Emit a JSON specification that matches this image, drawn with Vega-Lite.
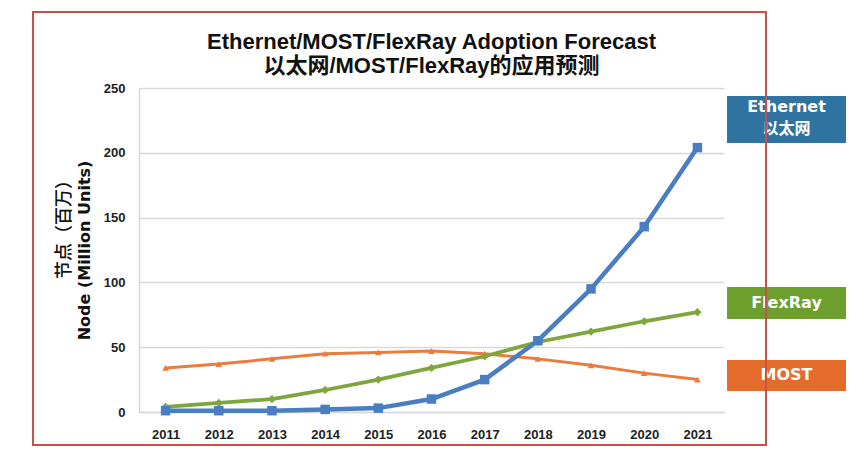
{
  "$schema": "https://vega.github.io/schema/vega-lite/v6.json",
  "width": 585,
  "height": 324,
  "autosize": "none",
  "padding": {"left": 139, "top": 88, "right": 144, "bottom": 40},
  "background": "#ffffff",
  "config": {"view": {"stroke": null}, "font": "Liberation Sans, Noto Sans CJK SC"},
  "title": {
    "text": "Ethernet/MOST/FlexRay Adoption Forecast",
    "subtitle": "以太网/MOST/FlexRay的应用预测",
    "frame": "group",
    "fontSize": 22,
    "fontWeight": "bold",
    "font": "Liberation Sans, Noto Sans CJK SC",
    "subtitleFont": "Liberation Sans, Noto Sans CJK SC",
    "subtitleFontSize": 22,
    "subtitleFontWeight": "bold",
    "subtitleColor": "#111111",
    "subtitlePadding": 2,
    "anchor": "middle",
    "offset": -67,
    "color": "#111111"
  },
  "datasets": {
    "series": [
      {"year": 2011, "series": "MOST", "value": 34},
      {"year": 2012, "series": "MOST", "value": 37},
      {"year": 2013, "series": "MOST", "value": 41},
      {"year": 2014, "series": "MOST", "value": 45},
      {"year": 2015, "series": "MOST", "value": 46},
      {"year": 2016, "series": "MOST", "value": 47},
      {"year": 2017, "series": "MOST", "value": 45},
      {"year": 2018, "series": "MOST", "value": 41},
      {"year": 2019, "series": "MOST", "value": 36},
      {"year": 2020, "series": "MOST", "value": 30},
      {"year": 2021, "series": "MOST", "value": 25},
      {"year": 2011, "series": "FlexRay", "value": 4},
      {"year": 2012, "series": "FlexRay", "value": 7},
      {"year": 2013, "series": "FlexRay", "value": 10},
      {"year": 2014, "series": "FlexRay", "value": 17},
      {"year": 2015, "series": "FlexRay", "value": 25},
      {"year": 2016, "series": "FlexRay", "value": 34},
      {"year": 2017, "series": "FlexRay", "value": 43},
      {"year": 2018, "series": "FlexRay", "value": 54},
      {"year": 2019, "series": "FlexRay", "value": 62},
      {"year": 2020, "series": "FlexRay", "value": 70},
      {"year": 2021, "series": "FlexRay", "value": 77},
      {"year": 2011, "series": "Ethernet", "value": 1},
      {"year": 2012, "series": "Ethernet", "value": 1},
      {"year": 2013, "series": "Ethernet", "value": 1},
      {"year": 2014, "series": "Ethernet", "value": 2},
      {"year": 2015, "series": "Ethernet", "value": 3},
      {"year": 2016, "series": "Ethernet", "value": 10},
      {"year": 2017, "series": "Ethernet", "value": 25},
      {"year": 2018, "series": "Ethernet", "value": 55},
      {"year": 2019, "series": "Ethernet", "value": 95},
      {"year": 2020, "series": "Ethernet", "value": 143},
      {"year": 2021, "series": "Ethernet", "value": 204}
    ],
    "labels": [
      {"series": "Ethernet", "label": ["Ethernet", "以太网"]},
      {"series": "FlexRay", "label": "FlexRay"},
      {"series": "MOST", "label": "MOST"},
      {"series": "axis", "label": "节点（百万）"}
    ],
    "frame": [{"name": "frame"}]
  },
  "layer": [
    {
      "data": {"name": "series"},
      "mark": {"type": "line", "strokeCap": "round", "strokeJoin": "round"},
      "encoding": {
        "x": {
          "field": "year", "type": "quantitative",
          "scale": {"domain": [2010.5, 2021.5], "nice": false, "zero": false},
          "axis": {
            "values": [2011, 2012, 2013, 2014, 2015, 2016, 2017, 2018, 2019, 2020, 2021],
            "format": "d", "grid": false, "ticks": false,
            "domainColor": "#d9d9d9", "domainWidth": 1.5,
            "labelFontWeight": "bold", "labelFontSize": 13, "labelColor": "#222222",
            "labelPadding": 16, "title": null
          }
        },
        "y": {
          "field": "value", "type": "quantitative",
          "scale": {"domain": [0, 250], "nice": false},
          "axis": {
            "values": [0, 50, 100, 150, 200, 250],
            "grid": true, "gridColor": "#d9d9d9", "gridWidth": 1.5,
            "ticks": false, "domainColor": "#d9d9d9", "domainWidth": 1.5,
            "labelFontWeight": "bold", "labelFontSize": 13, "labelColor": "#222222",
            "labelPadding": 14,
            "title": "Node (Million Units)",
            "titleFont": "DejaVu Sans",
            "titleFontSize": 16, "titleFontWeight": "bold", "titleColor": "#111111",
            "titlePadding": 11
          }
        },
        "color": {
          "field": "series", "type": "nominal",
          "scale": {"domain": ["Ethernet", "FlexRay", "MOST"], "range": ["#4a7ec2", "#7fa63c", "#e97c3e"]},
          "legend": null
        },
        "strokeWidth": {
          "field": "series", "type": "nominal",
          "scale": {"domain": ["Ethernet", "FlexRay", "MOST"], "range": [4.5, 3, 3]},
          "legend": null
        }
      }
    },
    {
      "data": {"name": "series"},
      "mark": {"type": "point", "filled": true, "opacity": 1},
      "encoding": {
        "x": {"field": "year", "type": "quantitative"},
        "y": {"field": "value", "type": "quantitative"},
        "color": {"field": "series", "type": "nominal", "legend": null},
        "shape": {
          "field": "series", "type": "nominal",
          "scale": {"domain": ["Ethernet", "FlexRay", "MOST"], "range": ["square", "diamond", "triangle-up"]},
          "legend": null
        },
        "size": {
          "field": "series", "type": "nominal",
          "scale": {"domain": ["Ethernet", "FlexRay", "MOST"], "range": [90, 45, 40]},
          "legend": null
        }
      }
    },
    {
      "data": {"name": "labels"},
      "transform": [{"filter": "datum.series === 'axis'"}],
      "mark": {"type": "text", "color": "#111111", "fontSize": 18, "font": "Noto Sans CJK SC", "fontWeight": 500, "angle": 270, "align": "center", "baseline": "middle"},
      "encoding": {
        "x": {"datum": 2009.109}, "y": {"datum": 144.3},
        "text": {"field": "label"}
      }
    },
    {
      "data": {"name": "labels"},
      "transform": [{"filter": "datum.series === 'Ethernet'"}],
      "layer": [
        {
          "mark": {"type": "rect", "color": "#2f74a1"},
          "encoding": {
            "x": {"datum": 2021.557}, "x2": {"datum": 2023.794},
            "y": {"datum": 243.8}, "y2": {"datum": 207.6}
          }
        },
        {
          "mark": {"type": "text", "color": "#ffffff", "fontWeight": "bold", "fontSize": 16, "font": "DejaVu Sans, Noto Sans CJK SC", "lineHeight": 22, "align": "center", "baseline": "middle"},
          "encoding": {
            "x": {"datum": 2022.675}, "y": {"datum": 235.3},
            "text": {"field": "label"}
          }
        }
      ]
    },
    {
      "data": {"name": "labels"},
      "transform": [{"filter": "datum.series === 'FlexRay'"}],
      "layer": [
        {
          "mark": {"type": "rect", "color": "#6c9f2e"},
          "encoding": {
            "x": {"datum": 2021.557}, "x2": {"datum": 2023.794},
            "y": {"datum": 96.5}, "y2": {"datum": 71.8}
          }
        },
        {
          "mark": {"type": "text", "color": "#ffffff", "fontWeight": "bold", "fontSize": 16, "font": "DejaVu Sans", "align": "center", "baseline": "middle"},
          "encoding": {
            "x": {"datum": 2022.675}, "y": {"datum": 84.1},
            "text": {"field": "label"}
          }
        }
      ]
    },
    {
      "data": {"name": "labels"},
      "transform": [{"filter": "datum.series === 'MOST'"}],
      "layer": [
        {
          "mark": {"type": "rect", "color": "#e36c2c"},
          "encoding": {
            "x": {"datum": 2021.557}, "x2": {"datum": 2023.794},
            "y": {"datum": 40.1}, "y2": {"datum": 16.2}
          }
        },
        {
          "mark": {"type": "text", "color": "#ffffff", "fontWeight": "bold", "fontSize": 16, "font": "DejaVu Sans", "align": "center", "baseline": "middle"},
          "encoding": {
            "x": {"datum": 2022.675}, "y": {"datum": 28.2},
            "text": {"field": "label"}
          }
        }
      ]
    },
    {
      "data": {"name": "frame"},
      "mark": {"type": "rect", "fill": null, "stroke": "#c9504d", "strokeWidth": 2},
      "encoding": {
        "x": {"datum": 2008.507}, "x2": {"datum": 2022.29},
        "y": {"datum": 308.6}, "y2": {"datum": -25.5}
      }
    }
  ]
}
